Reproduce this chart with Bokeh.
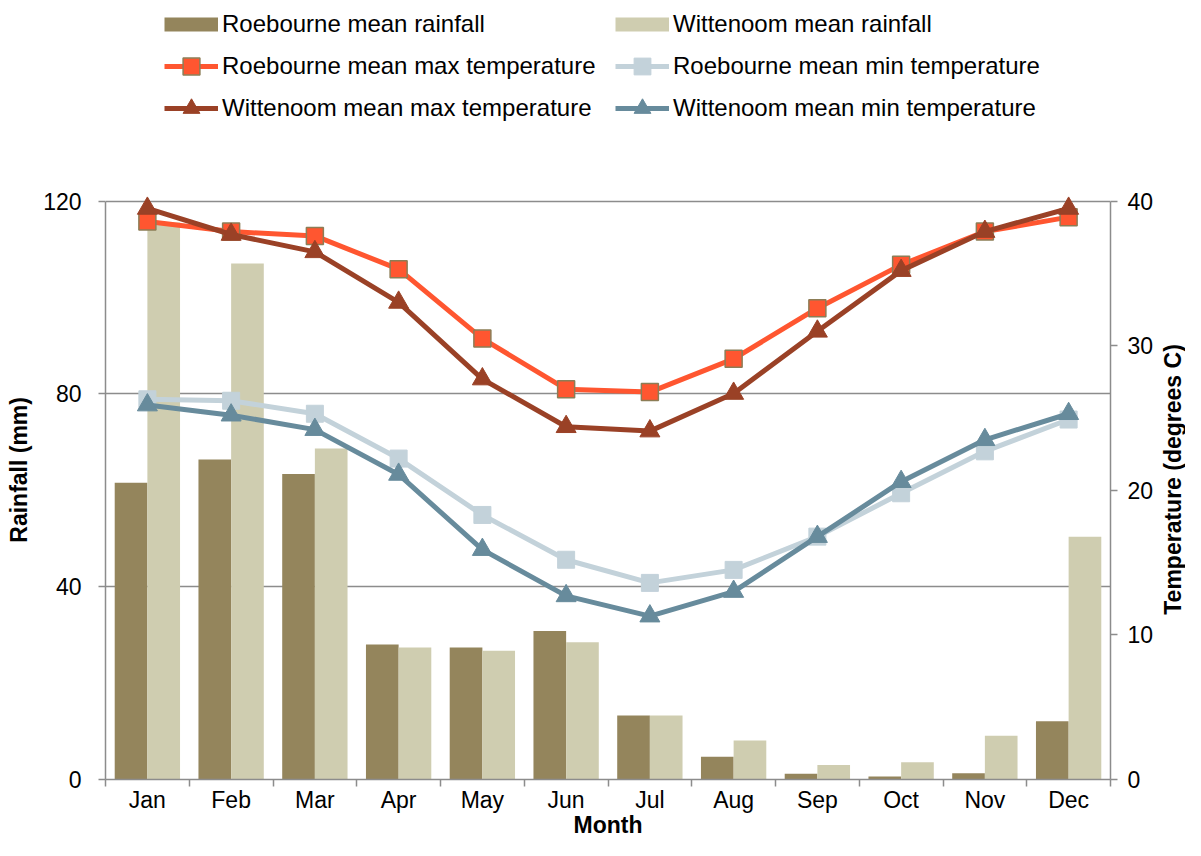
import math
from bokeh.plotting import figure
from bokeh.layouts import row
from bokeh.models import Range1d, LinearAxis, FixedTicker, Legend, LegendItem, ColumnDataSource
from bokeh.transform import dodge
from bokeh.embed import file_html
from bokeh.resources import INLINE

months = ["Jan", "Feb", "Mar", "Apr", "May", "Jun", "Jul", "Aug", "Sep", "Oct", "Nov", "Dec"]
roebourne_rain = [61.6, 66.4, 63.4, 28.0, 27.4, 30.8, 13.3, 4.7, 1.2, 0.6, 1.3, 12.1]
wittenoom_rain = [115.6, 107.1, 68.7, 27.4, 26.7, 28.5, 13.3, 8.1, 3.0, 3.6, 9.1, 50.4]
roebourne_max = [38.6, 37.9, 37.6, 35.3, 30.5, 27.0, 26.8, 29.1, 32.6, 35.6, 37.9, 38.9]
roebourne_min = [26.3, 26.2, 25.3, 22.2, 18.3, 15.2, 13.6, 14.5, 16.8, 19.8, 22.7, 24.9]
wittenoom_max = [39.5, 37.7, 36.5, 33.0, 27.7, 24.4, 24.1, 26.7, 31.0, 35.2, 37.9, 39.5]
wittenoom_min = [25.9, 25.2, 24.2, 21.1, 15.9, 12.7, 11.3, 13.0, 16.8, 20.6, 23.5, 25.3]
rain_ticks = [0, 40, 80, 120]
temp_ticks = [0, 10, 20, 30, 40]

x = list(range(1, len(months) + 1))
src = ColumnDataSource(dict(x=x, rr=roebourne_rain, wr=wittenoom_rain,
                            rmax=roebourne_max, rmin=roebourne_min,
                            wmax=wittenoom_max, wmin=wittenoom_min))

FONT = "Liberation Sans"
GRID = "#8c8c8c"
C_RR = "#94855c"
C_WR = "#cfcdb0"
C_RMAX = "#ff5630"
C_RMIN = "#c3d2da"
C_WMAX = "#9a4126"
C_WMIN = "#678b9c"
NBSP = "\u00a0"

# layout (pixels): frame spans from canvas top to the x axis; the value
# axes stop at their top tick so the legend can sit in the upper band
FRAME_H = 780          # canvas top -> x axis
AXIS_H = 579           # height of the value axes
scale = FRAME_H / AXIS_H

p = figure(width=1156, height=840, output_backend="svg", toolbar_location=None,
           x_range=Range1d(0.5, len(months) + 0.5),
           y_range=Range1d(rain_ticks[0], rain_ticks[-1] * scale),
           min_border_left=105, min_border_right=42, min_border_top=0, min_border_bottom=60)
p.extra_y_ranges = {"temp": Range1d(temp_ticks[0], temp_ticks[-1] * scale)}
p.outline_line_color = None
p.background_fill_color = "white"
p.border_fill_color = "white"

# bars
bw = 0.39
p.vbar(x=dodge("x", -bw / 2), top="rr", width=bw, source=src, fill_color=C_RR, line_color=None)
p.vbar(x=dodge("x", bw / 2), top="wr", width=bw, source=src, fill_color=C_WR, line_color=None)

# temperature lines
l1 = p.line("x", "rmax", source=src, y_range_name="temp", line_color=C_RMAX, line_width=5)
s1 = p.scatter("x", "rmax", source=src, y_range_name="temp", marker="square", size=17,
               fill_color=C_RMAX, line_color="#8c7d56", line_width=1.5)
l2 = p.line("x", "rmin", source=src, y_range_name="temp", line_color=C_RMIN, line_width=5)
s2 = p.scatter("x", "rmin", source=src, y_range_name="temp", marker="square", size=17,
               fill_color=C_RMIN, line_color=C_RMIN, line_width=1)
l3 = p.line("x", "wmax", source=src, y_range_name="temp", line_color=C_WMAX, line_width=5)
s3 = p.scatter("x", "wmax", source=src, y_range_name="temp", marker="triangle", size=20,
               fill_color=C_WMAX, line_color=C_WMAX, line_width=1)
l4 = p.line("x", "wmin", source=src, y_range_name="temp", line_color=C_WMIN, line_width=5)
s4 = p.scatter("x", "wmin", source=src, y_range_name="temp", marker="triangle", size=20,
               fill_color=C_WMIN, line_color=C_WMIN, line_width=1)

# legend swatches for the bars (hidden on the plot, shown only in the legend)
pr1 = p.line("x", "rr", source=src, line_color=C_RR, line_width=14, visible=False)
pr2 = p.line("x", "wr", source=src, line_color=C_WR, line_width=14, visible=False)

legend = Legend(items=[
    LegendItem(label="Roebourne mean rainfall", renderers=[pr1]),
    LegendItem(label="Wittenoom mean rainfall", renderers=[pr2]),
    LegendItem(label="Roebourne mean max temperature", renderers=[l1, s1]),
    LegendItem(label="Roebourne mean min temperature", renderers=[l2, s2]),
    LegendItem(label="Wittenoom mean max temperature", renderers=[l3, s3]),
    LegendItem(label="Wittenoom mean min temperature", renderers=[l4, s4]),
], orientation="horizontal", ncols=2, location=(59, 650),
    glyph_width=54, glyph_height=42, label_standoff=4, label_width=393,
    spacing=0, padding=0, margin=0, border_line_color=None, background_fill_alpha=0,
    inactive_fill_alpha=0,
    label_text_font=FONT, label_text_font_size="24px", label_text_color="black")
p.add_layout(legend)

# grid
p.xgrid.visible = False
p.ygrid.ticker = FixedTicker(ticks=rain_ticks)
p.ygrid.grid_line_color = GRID
p.ygrid.grid_line_width = 1.5

# x axis
xa = p.xaxis[0]
xa.ticker = FixedTicker(ticks=x, minor_ticks=[v - 0.5 for v in x] + [x[-1] + 0.5])
xa.major_label_overrides = {v: m for v, m in zip(x, months)}
xa.major_tick_out = 0
xa.major_tick_in = 0
xa.minor_tick_out = 7
xa.minor_tick_in = 0
xa.minor_tick_line_color = GRID
xa.minor_tick_line_width = 1.5
xa.axis_line_color = GRID
xa.axis_line_width = 1.5
xa.major_label_standoff = 0
xa.major_label_text_font = FONT
xa.major_label_text_font_size = "23px"
xa.major_label_text_color = "black"
xa.axis_label = "Month"
xa.axis_label_standoff = -4
xa.axis_label_text_font = FONT
xa.axis_label_text_font_size = "23px"
xa.axis_label_text_font_style = "bold"
xa.axis_label_text_color = "black"

# left axis
ya = p.yaxis[0]
ya.ticker = FixedTicker(ticks=rain_ticks)
ya.bounds = (rain_ticks[0], rain_ticks[-1])
ya.minor_tick_line_color = None
ya.major_tick_out = 7
ya.major_tick_in = 0
ya.major_tick_line_color = GRID
ya.major_tick_line_width = 1.5
ya.axis_line_color = GRID
ya.axis_line_width = 1.5
ya.major_label_standoff = 17
ya.major_label_text_font = FONT
ya.major_label_text_font_size = "23px"
ya.major_label_text_color = "black"
ya.axis_label = "Rainfall (mm)" + NBSP * 25
ya.axis_label_standoff = 8
ya.axis_label_text_font = FONT
ya.axis_label_text_font_size = "23px"
ya.axis_label_text_font_style = "bold"
ya.axis_label_text_color = "black"

# right axis (ticks and labels; its title is set in the narrow strip beside)
ra = LinearAxis(y_range_name="temp", ticker=FixedTicker(ticks=temp_ticks))
ra.bounds = (temp_ticks[0], temp_ticks[-1])
ra.minor_tick_line_color = None
ra.major_tick_out = 7
ra.major_tick_in = 0
ra.major_tick_line_color = GRID
ra.major_tick_line_width = 1.5
ra.axis_line_color = GRID
ra.axis_line_width = 1.5
ra.major_label_standoff = 10
ra.major_label_text_font = FONT
ra.major_label_text_font_size = "23px"
ra.major_label_text_color = "black"
p.add_layout(ra, "right")

# narrow strip carrying the right-hand axis title (reads bottom to top)
side = figure(width=29, height=840, output_backend="svg", toolbar_location=None,
              x_range=Range1d(0, 1), y_range=Range1d(0, 1),
              min_border_left=26, min_border_right=0, min_border_top=0, min_border_bottom=60)
side.outline_line_color = None
side.background_fill_color = "white"
side.border_fill_color = "white"
side.grid.visible = False
side.xaxis.visible = False
sa = side.yaxis[0]
sa.ticker = FixedTicker(ticks=[])
sa.axis_line_color = None
sa.major_tick_line_color = None
sa.minor_tick_line_color = None
sa.major_tick_out = 0
sa.major_label_standoff = 0
sa.axis_label = "Temperature (degrees C)" + NBSP * 28
sa.axis_label_standoff = 0
sa.axis_label_text_font = FONT
sa.axis_label_text_font_size = "23px"
sa.axis_label_text_font_style = "bold"
sa.axis_label_text_color = "black"

layout = row(p, side)
open("out.html", "w").write(file_html(layout, INLINE))
